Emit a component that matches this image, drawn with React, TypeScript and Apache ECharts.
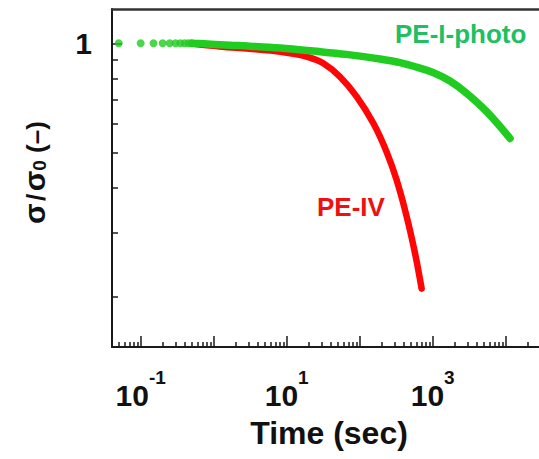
import React, { useEffect, useRef } from "react";
import * as echarts from "echarts";

// ---- data ----
const redTime = [0.5, 1.2, 3.1, 6, 11.1, 18.8, 31.7, 53.7, 91, 154, 234, 321, 441, 573, 706];
const redSigma = [0.998, 0.98, 0.966, 0.955, 0.939, 0.919, 0.881, 0.809, 0.713, 0.602, 0.502, 0.42, 0.333, 0.264, 0.211];

const greenDotTime = [0.05, 0.1, 0.15, 0.2, 0.25, 0.3, 0.35, 0.4, 0.45, 0.5];
const greenDotSigma = [1.0, 1.0, 1.0, 1.0, 1.0, 1.0, 1.0, 1.0, 1.0, 1.0];

const greenTime = [0.5, 0.65, 1.67, 3.1, 8.1, 23, 66, 190, 357, 537, 1010, 1726, 2924, 5495, 11460];
const greenSigma = [1.0, 0.998, 0.988, 0.982, 0.97, 0.952, 0.932, 0.905, 0.885, 0.866, 0.831, 0.787, 0.728, 0.648, 0.547];

const xMajorTicks = [0.1, 1, 10, 100, 1000, 10000];
const xLabelTicks = [0.1, 10, 1000];
const xDecades = [0.01, 0.1, 1, 10, 100, 1000, 10000];
const xMinorMultipliers = [2, 3, 4, 5, 6, 7, 8, 9];
const yMajorTicks = [1];
const yMinorTicks = [0.9, 0.8, 0.7, 0.6, 0.5, 0.4, 0.3, 0.2];

const X_MIN = 0.0405;
const X_MAX = 28600;
const Y_MIN = 0.1457;
const Y_MAX = 1.243;

const FONT = '"Liberation Sans", Arial, Helvetica, sans-serif';
const AXIS_COLOR = "#1a1a1a";
const RED = "#ff0505";
const GREEN = "#1fcc1f";

const pair = (xs: number[], ys: number[]) => xs.map((x, i) => [x, ys[i]]);

export default function App() {
  const ref = useRef<HTMLDivElement>(null);
  useEffect(() => {
    if (!ref.current) return;
    const chart = echarts.init(ref.current, null, { renderer: "svg" });
    const xMinor: number[] = [];
    xDecades.forEach((d) => xMinorMultipliers.forEach((m) => xMinor.push(+(d * m).toPrecision(6))));
    const xMinorIn = xMinor.filter((v) => v >= X_MIN && v <= X_MAX);

    const baseX = {
      type: "log",
      logBase: 10,
      min: X_MIN,
      max: X_MAX,
      splitLine: { show: false },
      minorTick: { show: false },
      minorSplitLine: { show: false },
    };
    const baseY = {
      type: "log",
      logBase: 10,
      min: Y_MIN,
      max: Y_MAX,
      position: "left",
      splitLine: { show: false },
      minorTick: { show: false },
      minorSplitLine: { show: false },
    };

    const option: any = {
      animation: false,
      grid: { left: 112, right: 0, top: 9, bottom: 112, containLabel: false, outerBoundsMode: "none" },
      xAxis: [
        {
          ...baseX,
          position: "bottom",
          axisLine: { show: true, onZero: false, lineStyle: { color: AXIS_COLOR, width: 2 } },
          axisTick: { show: true, inside: true, length: 11, customValues: xMajorTicks, lineStyle: { color: AXIS_COLOR, width: 1.5 } },
          axisLabel: {
            show: true,
            customValues: xLabelTicks,
            margin: 21,
            formatter: (v: number) => `{b|10}{s|${Math.round(Math.log10(v))}}`,
            rich: {
              b: { fontSize: 30, fontWeight: "bold", fontFamily: FONT, color: "#111", lineHeight: 42, verticalAlign: "bottom" },
              s: { fontSize: 19, fontWeight: "bold", fontFamily: FONT, color: "#111", lineHeight: 20, verticalAlign: "top" },
            },
          },
        },
        {
          ...baseX,
          position: "bottom",
          axisLine: { show: false },
          axisTick: { show: true, inside: true, length: 5, customValues: xMinorIn, lineStyle: { color: AXIS_COLOR, width: 1.5 } },
          axisLabel: { show: false },
        },
        {
          ...baseX,
          position: "top",
          axisLine: { show: true, onZero: false, lineStyle: { color: "#333", width: 2.5 } },
          axisTick: { show: false },
          axisLabel: { show: false },
        },
      ],
      yAxis: [
        {
          ...baseY,
          axisLine: { show: true, onZero: false, lineStyle: { color: AXIS_COLOR, width: 2 } },
          axisTick: { show: true, inside: true, length: 10, customValues: yMajorTicks, lineStyle: { color: AXIS_COLOR, width: 1.5 } },
          axisLabel: {
            show: true,
            customValues: yMajorTicks,
            margin: 20,
            fontSize: 30,
            fontWeight: "bold",
            fontFamily: FONT,
            color: "#111",
            formatter: (v: number) => String(Math.round(v)),
          },
        },
        {
          ...baseY,
          axisLine: { show: false },
          axisTick: { show: true, inside: true, length: 6, customValues: yMinorTicks, lineStyle: { color: AXIS_COLOR, width: 1.5 } },
          axisLabel: { show: false },
        },
      ],
      series: [
        {
          name: "PE-IV",
          type: "line",
          xAxisIndex: 0,
          yAxisIndex: 0,
          data: pair(redTime, redSigma),
          smooth: 0.4,
          showSymbol: false,
          symbol: "none",
          lineStyle: { color: RED, width: 6.5, cap: "round", join: "round" },
          z: 2,
        },
        {
          name: "PE-I-photo",
          type: "line",
          xAxisIndex: 0,
          yAxisIndex: 0,
          data: pair(greenTime, greenSigma),
          smooth: 0.4,
          showSymbol: false,
          symbol: "none",
          lineStyle: { color: GREEN, width: 7.5, cap: "round", join: "round" },
          z: 3,
        },
        {
          name: "PE-I-photo dots",
          type: "scatter",
          xAxisIndex: 0,
          yAxisIndex: 0,
          data: pair(greenDotTime, greenDotSigma),
          symbol: "circle",
          symbolSize: 8,
          itemStyle: { color: GREEN },
          z: 3,
        },
      ],
      graphic: [
        {
          type: "text",
          x: 395,
          y: 34,
          style: { text: "PE-I-photo", font: `bold 26px ${FONT}`, fill: "#22bf62", align: "left", verticalAlign: "middle" },
        },
        {
          type: "text",
          x: 317,
          y: 207,
          style: { text: "PE-IV", font: `bold 26px ${FONT}`, fill: "#ee1111", align: "left", verticalAlign: "middle" },
        },
        {
          type: "text",
          x: 329,
          y: 433,
          style: { text: "Time (sec)", font: `bold 32px ${FONT}`, fill: "#111", align: "center", verticalAlign: "middle" },
        },
        {
          type: "text",
          x: 33,
          y: 224,
          rotation: Math.PI / 2,
          style: {
            text: "{s|σ}{g| }{t|/}{g| }{s|σ}{sub|0}{t| (–)}",
            align: "left",
            verticalAlign: "middle",
            rich: {
              s: { fontSize: 30, fontWeight: "bold", fontFamily: FONT, fill: "#111", lineHeight: 32, verticalAlign: "bottom" },
              t: { fontSize: 26, fontWeight: "bold", fontFamily: FONT, fill: "#111", lineHeight: 29, verticalAlign: "bottom" },
              g: { fontSize: 9, fontWeight: "bold", fontFamily: FONT, fill: "#111", lineHeight: 18, verticalAlign: "bottom" },
              sub: { fontSize: 19, fontWeight: "bold", fontFamily: FONT, fill: "#111", lineHeight: 24, verticalAlign: "bottom" },
            },
          },
        },
      ],
    };
    chart.setOption(option);
    return () => chart.dispose();
  }, []);
  return <div ref={ref} style={{ position: "absolute", left: 0, top: 0, width: 539, height: 459 }} />;
}
